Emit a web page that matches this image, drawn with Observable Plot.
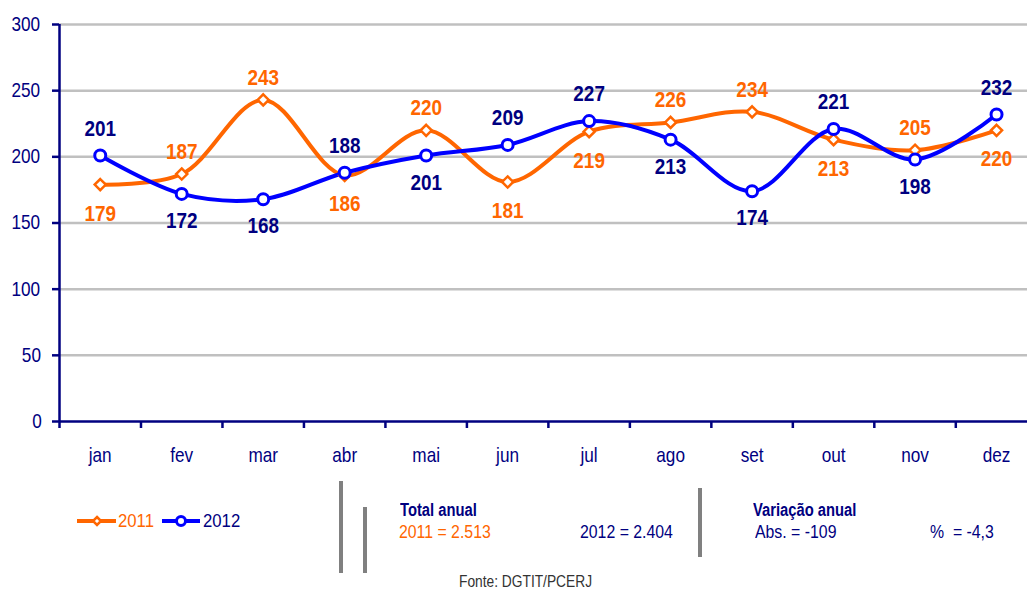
<!DOCTYPE html>
<html><head><meta charset="utf-8">
<script src="https://cdn.jsdelivr.net/npm/d3@7"></script>
<script src="https://cdn.jsdelivr.net/npm/@observablehq/plot@0.6"></script>
<style>
html,body{margin:0;padding:0;background:#fff;overflow:hidden}
#wrap{position:relative;width:1027px;height:593px;font-family:"Liberation Sans",Arial,sans-serif}
.t{position:absolute;white-space:nowrap;font-size:18px;line-height:18px;transform-origin:left center;transform:scaleX(0.88)}
.bar{position:absolute;background:#808080;width:4px}
</style></head>
<body><div id="wrap"></div>
<script>
const months = ["jan","fev","mar","abr","mai","jun","jul","ago","set","out","nov","dez"];
const values2011 = [179,187,243,186,220,181,219,226,234,213,205,220];
const values2012 = [201,172,168,188,201,209,227,213,174,221,198,232];
const yTicks = [0,50,100,150,200,250,300];

const ORANGE = "#ff6600", BLUE = "#0000ff", NAVY = "#000080";

const rows = [];
months.forEach((m, i) => {
  rows.push({i, month: m, year: "2011", v: values2011[i], above: values2011[i] >= values2012[i]});
  rows.push({i, month: m, year: "2012", v: values2012[i], above: values2012[i] > values2011[i]});
});
const r11 = rows.filter(d => d.year === "2011");
const r12 = rows.filter(d => d.year === "2012");

const chart = Plot.plot({
  width: 1027, height: 470,
  marginLeft: 59, marginRight: 0, marginTop: 24, marginBottom: 49,
  style: {fontFamily: '"Liberation Sans",Arial,sans-serif', fontSize: "20px", color: NAVY, background: "white", overflow: "visible"},
  x: {type: "linear", domain: [-0.5, 11.38]},
  y: {domain: [0, 300]},
  marks: [
    Plot.gridY(yTicks.filter(t => t > 0), {stroke: "#c0c0c0", strokeOpacity: 1, strokeWidth: 2.5}),
    Plot.axisY({ticks: yTicks, tickSize: 7, tickPadding: 10, stroke: NAVY, strokeWidth: 2.5, fill: NAVY, fontSize: 20, label: null}),
    Plot.axisX({ticks: d3.range(12), tickSize: 0, tickPadding: 26, tickFormat: i => months[i], fill: NAVY, fontSize: 20, label: null}),
    Plot.axisX({ticks: d3.range(12).map(i => i - 0.5), tickSize: 7, tickFormat: () => "", stroke: NAVY, strokeWidth: 2.5, label: null}),
    Plot.ruleY([0], {stroke: NAVY, strokeWidth: 2.5}),
    Plot.ruleX([-0.5], {stroke: NAVY, strokeWidth: 2.5}),
    Plot.line(r11, {x: "i", y: "v", curve: "catmull-rom", stroke: ORANGE, strokeWidth: 4}),
    Plot.line(r12, {x: "i", y: "v", curve: "catmull-rom", stroke: BLUE, strokeWidth: 4}),
    Plot.dot(r11, {x: "i", y: "v", symbol: "diamond2", r: 5, fill: "white", stroke: ORANGE, strokeWidth: 2.5}),
    Plot.dot(r12, {x: "i", y: "v", symbol: "circle", r: 5.5, fill: "white", stroke: BLUE, strokeWidth: 3}),
    Plot.text(r11.filter(d => d.above), {x: "i", y: "v", text: d => String(d.v), dy: -22, fill: ORANGE, fontWeight: "bold", fontSize: 22}),
    Plot.text(r11.filter(d => !d.above), {x: "i", y: "v", text: d => String(d.v), dy: 29, fill: ORANGE, fontWeight: "bold", fontSize: 22}),
    Plot.text(r12.filter(d => d.above), {x: "i", y: "v", text: d => String(d.v), dy: -27, fill: NAVY, fontWeight: "bold", fontSize: 22}),
    Plot.text(r12.filter(d => !d.above), {x: "i", y: "v", text: d => String(d.v), dy: 27, fill: NAVY, fontWeight: "bold", fontSize: 22})
  ]
});
chart.style.position = "absolute";
chart.style.left = "0px";
chart.style.top = "0px";
const wrap = document.getElementById("wrap");
wrap.appendChild(chart);

// condense the text horizontally around its own centre (reference uses a narrow face)
chart.querySelectorAll("text").forEach(el => {
  if (!el.textContent) return;
  const b = el.getBBox();
  const cx = b.x + b.width / 2;
  const prev = el.getAttribute("transform") || "";
  el.setAttribute("transform", `${prev} translate(${cx},0) scale(0.86,1) translate(${-cx},0)`);
});

const extra = `
<svg style="position:absolute;left:0;top:500px" width="260" height="40">
  <line x1="77" y1="21" x2="116" y2="21" stroke="${ORANGE}" stroke-width="4"/>
  <path d="M97,17 L101,21 L97,25 L93,21 Z" fill="white" stroke="${ORANGE}" stroke-width="2.5"/>
  <line x1="162" y1="21" x2="200" y2="21" stroke="${BLUE}" stroke-width="4"/>
  <circle cx="181" cy="21" r="4.5" fill="white" stroke="${BLUE}" stroke-width="3"/>
</svg>
<div class="t" style="left:118px;top:512px;color:${ORANGE};font-size:19px">2011</div>
<div class="t" style="left:203px;top:512px;color:${NAVY};font-size:19px">2012</div>
<div class="bar" style="left:339px;top:481px;height:92px"></div>
<div class="bar" style="left:363px;top:507px;height:66px"></div>
<div class="bar" style="left:698px;top:488px;height:69px"></div>
<div class="t" style="left:400px;top:501px;color:${NAVY};font-weight:bold;transform:scaleX(0.82)">Total anual</div>
<div class="t" style="left:399px;top:523px;color:${ORANGE}">2011 = 2.513</div>
<div class="t" style="left:580px;top:523px;color:${NAVY}">2012 = 2.404</div>
<div class="t" style="left:753px;top:501px;color:${NAVY};font-weight:bold;transform:scaleX(0.82)">Variação anual</div>
<div class="t" style="left:755px;top:523px;color:${NAVY}">Abs. = -109</div>
<div class="t" style="left:930px;top:523px;color:${NAVY}">%&nbsp; = -4,3</div>
<div class="t" style="left:459px;top:574px;color:#333;font-size:16px;line-height:16px;transform:scaleX(0.86)">Fonte: DGTIT/PCERJ</div>
`;
wrap.insertAdjacentHTML("beforeend", extra);
</script>
</body></html>
